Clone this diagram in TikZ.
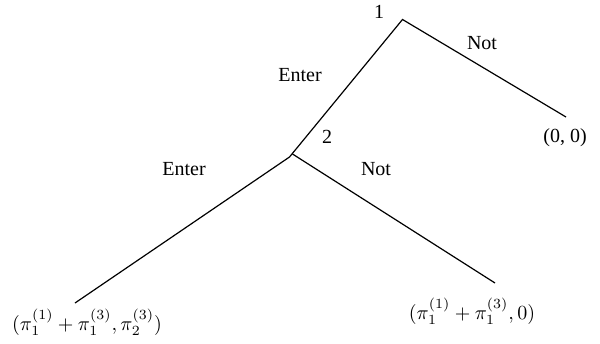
\documentclass[tikz,border=0pt]{standalone}
\usepackage{fontspec}
\setmainfont{Liberation Serif}
\begin{document}
\begin{tikzpicture}[x=0.5pt,y=-0.5pt,
  lab/.style={inner sep=0pt,font=\fontsize{10}{12}\selectfont},
  edge/.style={line width=0.6pt}]
\useasboundingbox (0,0) rectangle (600,343);
\coordinate (n1) at (402.5,19.5);
\coordinate (n2) at (289.5,157);
\coordinate (n2r) at (292.5,154);
\coordinate (t1) at (566,117);
\coordinate (t2) at (75,303);
\coordinate (t3) at (495,283);
\draw[edge] (t1) -- (n1) -- (n2) -- (t2);
\draw[edge] (n2r) -- (t3);
\node[lab] (l1) at (379,12) {1};
\node[lab] (l2) at (327,137) {2};
\node[lab] (e1) at (300,75) {Enter};
\node[lab] (o1) at (482,43) {Not};
\node[lab] (e2) at (184,169) {Enter};
\node[lab] (o2) at (376,169) {Not};
\node[lab] (p1) at (565,138) {(0, 0)};
\node[lab,anchor=base] (p2) at (87,330) {$(\pi_1^{(1)}+\pi_1^{(3)},\pi_2^{(3)})$};
\node[lab,anchor=base] (p3) at (472,319) {$(\pi_1^{(1)}+\pi_1^{(3)},0)$};
\end{tikzpicture}
\end{document}
